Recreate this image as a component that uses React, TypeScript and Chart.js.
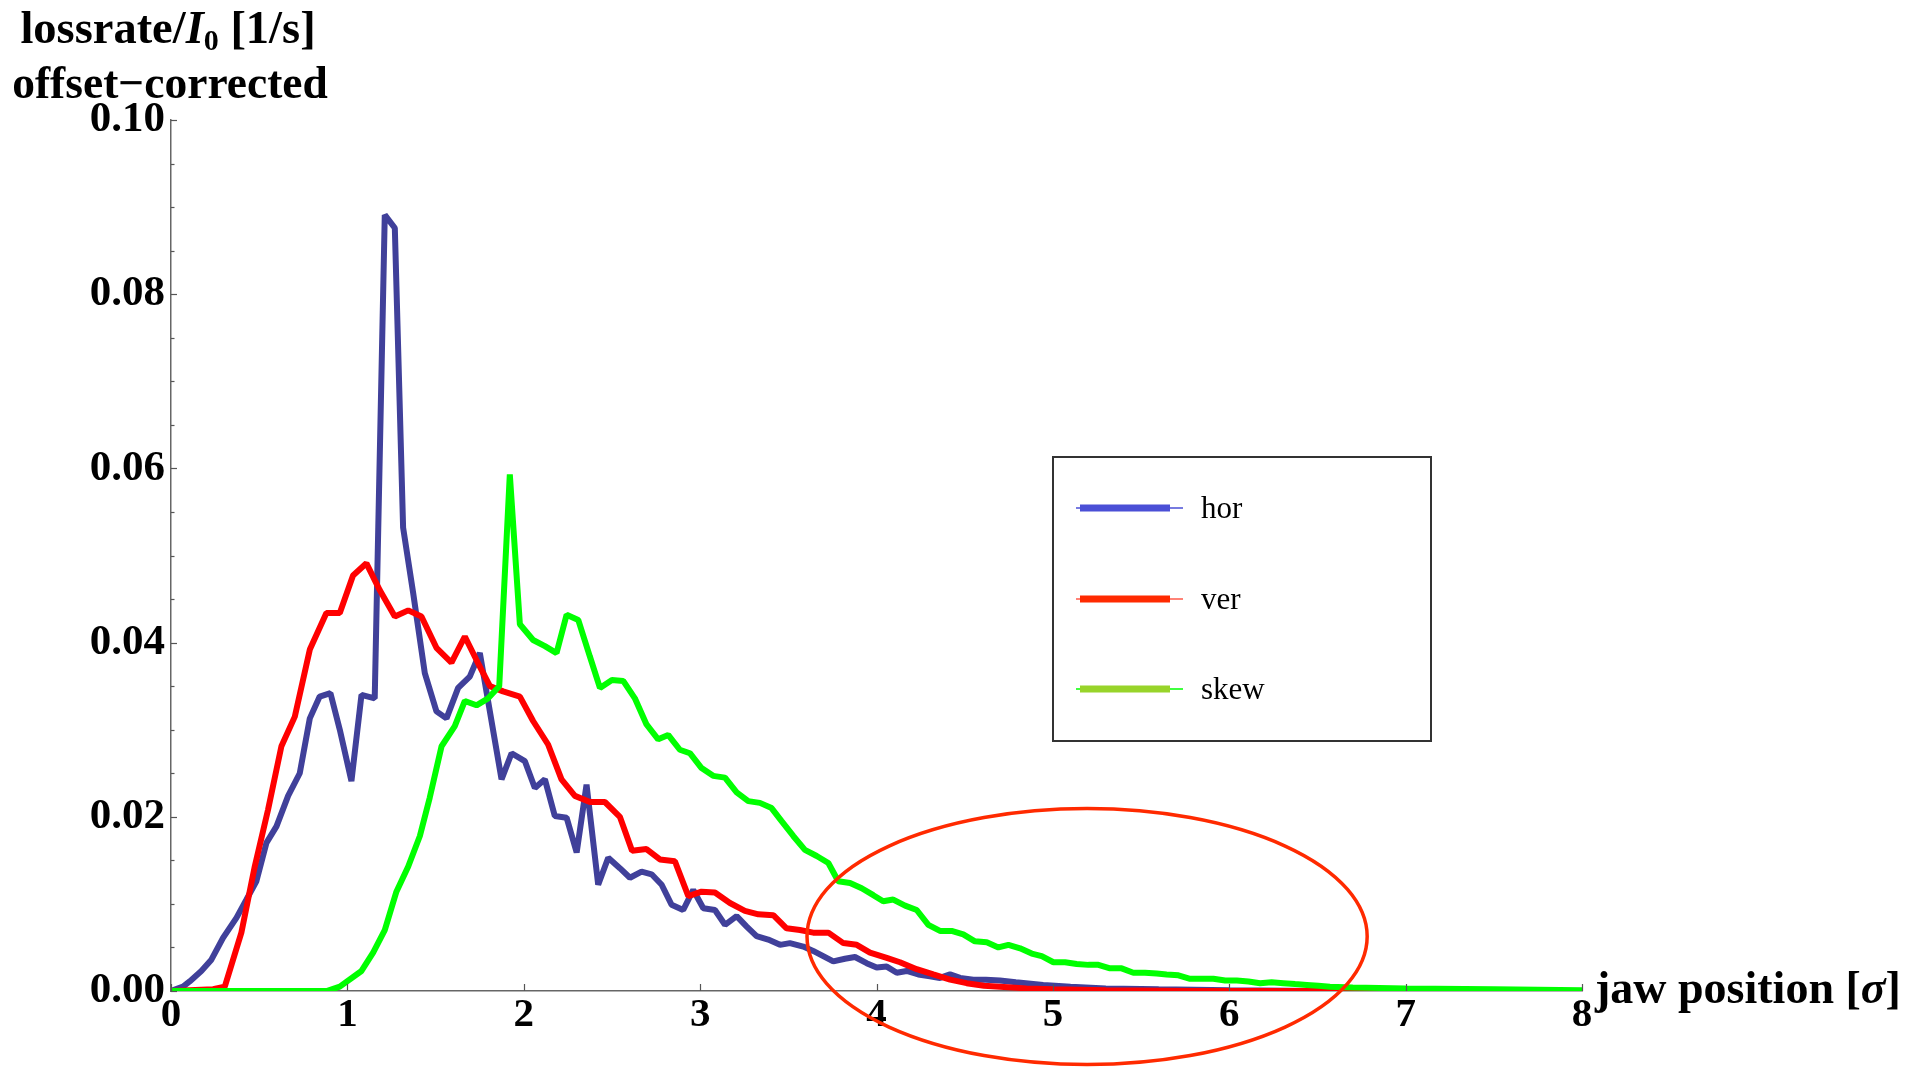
import React, { useEffect, useRef } from "react";
import { Chart, registerables } from "chart.js";

Chart.register(...registerables);

// ---------------- data ----------------
const seriesLabels = ["hor", "ver", "skew"];

const horX = [0, 0.068, 0.106, 0.172, 0.229, 0.295, 0.371, 0.428, 0.484, 0.541, 0.598, 0.664, 0.73, 0.787, 0.843, 0.904, 0.957, 1.023, 1.08, 1.155, 1.212, 1.269, 1.316, 1.373, 1.439, 1.505, 1.562, 1.628, 1.694, 1.751, 1.874, 1.931, 2.006, 2.063, 2.12, 2.176, 2.243, 2.3, 2.356, 2.422, 2.479, 2.545, 2.602, 2.668, 2.725, 2.782, 2.838, 2.904, 2.961, 3.018, 3.084, 3.141, 3.207, 3.264, 3.32, 3.386, 3.453, 3.509, 3.585, 3.641, 3.698, 3.755, 3.821, 3.878, 3.944, 4.001, 4.058, 4.115, 4.171, 4.237, 4.303, 4.36, 4.417, 4.474, 4.549, 4.62, 4.7, 4.79, 4.945, 5.1, 5.3, 5.6, 6.0, 6.5, 8.0];
const horY = [0, 0.0005, 0.0011, 0.0023, 0.0036, 0.0061, 0.0084, 0.0105, 0.0126, 0.017, 0.0189, 0.0224, 0.025, 0.0313, 0.0338, 0.0342, 0.03, 0.0241, 0.034, 0.0336, 0.0891, 0.0876, 0.0532, 0.0457, 0.0365, 0.0321, 0.0313, 0.0348, 0.0361, 0.0388, 0.0243, 0.0273, 0.0264, 0.0233, 0.0243, 0.0201, 0.0199, 0.0159, 0.0237, 0.0122, 0.0153, 0.0141, 0.013, 0.0137, 0.0134, 0.0122, 0.0099, 0.0093, 0.0116, 0.0095, 0.0093, 0.0076, 0.0086, 0.0074, 0.0063, 0.0059, 0.0053, 0.0055, 0.0051, 0.0046, 0.004, 0.0034, 0.0037, 0.0039, 0.0032, 0.0027, 0.0028, 0.0021, 0.0023, 0.0019, 0.0017, 0.0015, 0.0019, 0.0015, 0.0013, 0.0013, 0.0012, 0.001, 0.0007, 0.0005, 0.0003, 0.0002, 0.0001, 0, 0];

const verX = [0, 0.239, 0.305, 0.399, 0.475, 0.55, 0.626, 0.702, 0.787, 0.881, 0.957, 1.032, 1.108, 1.184, 1.269, 1.345, 1.42, 1.505, 1.59, 1.666, 1.732, 1.808, 1.883, 1.978, 2.053, 2.138, 2.214, 2.29, 2.375, 2.46, 2.545, 2.614, 2.696, 2.772, 2.857, 2.933, 3.008, 3.084, 3.169, 3.254, 3.33, 3.415, 3.49, 3.566, 3.641, 3.727, 3.812, 3.888, 3.963, 4.058, 4.133, 4.228, 4.322, 4.417, 4.511, 4.61, 4.7, 4.85, 5.0, 5.3, 5.8, 8.0];
const verY = [0, 0.0002, 0.0005, 0.0067, 0.0143, 0.0208, 0.0281, 0.0315, 0.0392, 0.0434, 0.0434, 0.0477, 0.0491, 0.046, 0.043, 0.0437, 0.043, 0.0394, 0.0377, 0.0407, 0.038, 0.035, 0.0344, 0.0338, 0.031, 0.0283, 0.0243, 0.0224, 0.0217, 0.0217, 0.02, 0.0161, 0.0163, 0.0151, 0.0149, 0.0109, 0.0114, 0.0113, 0.0101, 0.0092, 0.0088, 0.0087, 0.0072, 0.007, 0.0067, 0.0067, 0.0055, 0.0053, 0.0044, 0.0038, 0.0033, 0.0025, 0.0019, 0.0013, 0.0009, 0.0006, 0.0005, 0.0003, 0.0002, 0.0001, 0, 0];

const skewX = [0, 0.882, 0.957, 1.08, 1.146, 1.212, 1.278, 1.345, 1.411, 1.467, 1.534, 1.609, 1.666, 1.732, 1.798, 1.861, 1.921, 1.978, 2.053, 2.12, 2.186, 2.243, 2.309, 2.375, 2.432, 2.5, 2.564, 2.63, 2.696, 2.762, 2.819, 2.885, 2.942, 3.008, 3.074, 3.141, 3.207, 3.273, 3.339, 3.405, 3.462, 3.528, 3.594, 3.661, 3.727, 3.783, 3.85, 3.916, 3.982, 4.038, 4.095, 4.162, 4.228, 4.294, 4.36, 4.426, 4.492, 4.558, 4.625, 4.691, 4.748, 4.814, 4.88, 4.937, 5.003, 5.069, 5.135, 5.201, 5.258, 5.324, 5.39, 5.456, 5.522, 5.589, 5.645, 5.712, 5.778, 5.844, 5.91, 5.977, 6.043, 6.109, 6.175, 6.24, 6.307, 6.373, 6.44, 6.505, 6.571, 6.7, 7.0, 7.5, 8.0];
const skewY = [0, 0, 0.0005, 0.0023, 0.0044, 0.007, 0.0114, 0.0143, 0.0178, 0.0222, 0.0281, 0.0304, 0.0333, 0.0328, 0.0336, 0.035, 0.0593, 0.0421, 0.0403, 0.0396, 0.0388, 0.0432, 0.0426, 0.0384, 0.0348, 0.0357, 0.0356, 0.0336, 0.0306, 0.0289, 0.0294, 0.0277, 0.0273, 0.0256, 0.0247, 0.0245, 0.0228, 0.0218, 0.0216, 0.021, 0.0195, 0.0178, 0.0162, 0.0155, 0.0147, 0.0126, 0.0124, 0.0118, 0.011, 0.0103, 0.0105, 0.0098, 0.0093, 0.0076, 0.0069, 0.0069, 0.0065, 0.0057, 0.0056, 0.005, 0.0053, 0.0049, 0.0043, 0.004, 0.0033, 0.0033, 0.0031, 0.003, 0.003, 0.0026, 0.0026, 0.0021, 0.0021, 0.002, 0.0019, 0.0018, 0.0014, 0.0014, 0.0014, 0.0012, 0.0012, 0.0011, 0.0009, 0.001, 0.0009, 0.0008, 0.0007, 0.0006, 0.0005, 0.0004, 0.0003, 0.0002, 0.0001];

const xTickValues = [0, 1, 2, 3, 4, 5, 6, 7, 8];
const yTickValues = [0, 0.02, 0.04, 0.06, 0.08, 0.1];
const yMinorStep = 0.005;

// annotation ellipse (data units): center and radii
const ellipseCenter = [5.194, 0.00625];
const ellipseRadii = [1.588, 0.01469];

// ---------------- styles ----------------
const FONT = "'Liberation Serif', 'Times New Roman', serif";
const lineColors = ["#40409a", "#ff0000", "#00ff00"];
const legendThick = ["#4a4fd6", "#ff2a00", "#98d42a"];
const legendThin = ["#4a4fd6", "#ff5a4a", "#00ff00"];

function toPts(xs: number[], ys: number[]) {
  return xs.map((x, i) => ({ x, y: ys[i] }));
}

type Part = { t: string; f: string; dy?: number };
function drawRich(ctx: CanvasRenderingContext2D, parts: Part[], x: number, y: number, align: "center" | "left") {
  let total = 0;
  const widths = parts.map((p) => {
    ctx.font = p.f;
    const w = ctx.measureText(p.t).width;
    total += w;
    return w;
  });
  let cx = align === "center" ? x - total / 2 : x;
  ctx.textAlign = "left";
  ctx.textBaseline = "alphabetic";
  parts.forEach((p, i) => {
    ctx.font = p.f;
    ctx.fillText(p.t, cx, y + (p.dy || 0));
    cx += widths[i];
  });
}

const decorPlugin = {
  id: "decor",
  afterDraw(chart: any) {
    const ctx: CanvasRenderingContext2D = chart.ctx;
    const ca = chart.chartArea;
    const xs = chart.scales.x;
    const ys = chart.scales.y;
    ctx.save();

    // inward ticks
    ctx.strokeStyle = "#555";
    ctx.lineWidth = 1.2;
    const nMinor = Math.round(0.1 / yMinorStep);
    for (let i = 0; i <= nMinor; i++) {
      const v = i * yMinorStep;
      const major = yTickValues.some((t) => Math.abs(t - v) < 1e-9);
      const py = Math.round(ys.getPixelForValue(v)) + 0.5;
      ctx.beginPath();
      ctx.moveTo(ca.left, py);
      ctx.lineTo(ca.left + (major ? 6 : 3.5), py);
      ctx.stroke();
    }
    xTickValues.forEach((v) => {
      const px = Math.round(xs.getPixelForValue(v)) + 0.5;
      ctx.beginPath();
      ctx.moveTo(px, ca.bottom);
      ctx.lineTo(px, ca.bottom - 7);
      ctx.stroke();
    });

    // ellipse annotation
    const ecx = xs.getPixelForValue(ellipseCenter[0]);
    const ecy = ys.getPixelForValue(ellipseCenter[1]);
    const erx = Math.abs(xs.getPixelForValue(ellipseCenter[0] + ellipseRadii[0]) - ecx);
    const ery = Math.abs(ys.getPixelForValue(ellipseCenter[1] + ellipseRadii[1]) - ecy);
    ctx.strokeStyle = "#ff2a00";
    ctx.lineWidth = 3.5;
    ctx.beginPath();
    ctx.ellipse(ecx, ecy, erx, ery, 0, 0, Math.PI * 2);
    ctx.stroke();

    // legend box
    const bx = ca.left + 882;
    const by = ca.top + 337;
    const bw = 378;
    const bh = 284;
    ctx.strokeStyle = "#333";
    ctx.lineWidth = 2;
    ctx.strokeRect(bx, by, bw, bh);
    const rowY = [51, 142, 232];
    seriesLabels.forEach((lab, i) => {
      const y = by + rowY[i];
      ctx.strokeStyle = legendThin[i];
      ctx.lineWidth = 1.5;
      ctx.beginPath();
      ctx.moveTo(bx + 23, y);
      ctx.lineTo(bx + 130, y);
      ctx.stroke();
      ctx.strokeStyle = legendThick[i];
      ctx.lineWidth = 7;
      ctx.beginPath();
      ctx.moveTo(bx + 27, y);
      ctx.lineTo(bx + 117, y);
      ctx.stroke();
      ctx.fillStyle = "#000";
      ctx.font = `31px ${FONT}`;
      ctx.textAlign = "left";
      ctx.textBaseline = "alphabetic";
      ctx.fillText(lab, bx + 148, y + 10);
    });

    // axis titles
    ctx.fillStyle = "#000";
    const B = (s: number) => `bold ${s}px ${FONT}`;
    const BI = (s: number) => `italic bold ${s}px ${FONT}`;
    drawRich(ctx, [
      { t: "lossrate/", f: B(46.5) },
      { t: "I", f: BI(46.5) },
      { t: "0", f: B(30), dy: 7 },
      { t: " [1/s]", f: B(46.5) },
    ], ca.left - 3, 43, "center");
    drawRich(ctx, [{ t: "offset\u2212corrected", f: B(45.5) }], ca.left - 1, 98, "center");
    drawRich(ctx, [
      { t: "jaw position [", f: B(46) },
      { t: "\u03c3", f: BI(46) },
      { t: "]", f: B(46) },
    ], ca.right + 13, 1003, "left");

    ctx.restore();
  },
};

export default function App() {
  const ref = useRef<HTMLCanvasElement | null>(null);

  useEffect(() => {
    if (!ref.current) return;
    document.body.style.margin = "0";
    const datasets = [
      { label: seriesLabels[0], data: toPts(horX, horY), borderColor: lineColors[0], order: 3 },
      { label: seriesLabels[1], data: toPts(verX, verY), borderColor: lineColors[1], order: 2 },
      { label: seriesLabels[2], data: toPts(skewX, skewY), borderColor: lineColors[2], order: 1 },
    ].map((d) => ({
      ...d,
      borderWidth: 6,
      pointRadius: 0,
      tension: 0,
      fill: false,
      borderJoinStyle: "bevel" as const,
    }));

    const chart = new Chart(ref.current, {
      type: "line",
      data: { datasets },
      plugins: [decorPlugin],
      options: {
        animation: false,
        responsive: false,
        devicePixelRatio: 1,
        layout: { padding: { top: 120, right: 323, left: 0, bottom: 0 } },
        plugins: { legend: { display: false }, tooltip: { enabled: false } },
        scales: {
          x: {
            type: "linear",
            min: 0,
            max: 8,
            grid: { display: false, drawTicks: false },
            border: { display: true, color: "#666", width: 1.5 },
            afterBuildTicks: (s: any) => {
              s.ticks = xTickValues.map((v) => ({ value: v }));
            },
            afterFit: (s: any) => {
              s.height = 77;
            },
            ticks: {
              autoSkip: false,
              maxRotation: 0,
              padding: 0,
              color: "#000",
              font: { family: FONT, size: 41, weight: "bold" },
              callback: (v: any) => String(v),
            },
          },
          y: {
            type: "linear",
            min: 0,
            max: 0.1,
            grid: { display: false, drawTicks: false },
            border: { display: true, color: "#666", width: 1.5 },
            afterBuildTicks: (s: any) => {
              s.ticks = yTickValues.map((v) => ({ value: v }));
            },
            afterFit: (s: any) => {
              s.width = 171;
            },
            ticks: {
              autoSkip: false,
              padding: 6,
              color: "#000",
              font: { family: FONT, size: 43, weight: "bold" },
              callback: (v: any) => Number(v).toFixed(2),
            },
          },
        },
      },
    });
    return () => chart.destroy();
  }, []);

  return (
    <div style={{ position: "fixed", left: 0, top: 0, width: 1905, height: 1068, background: "#fff" }}>
      <canvas ref={ref} width={1905} height={1068} style={{ width: 1905, height: 1068, display: "block" }} />
    </div>
  );
}
